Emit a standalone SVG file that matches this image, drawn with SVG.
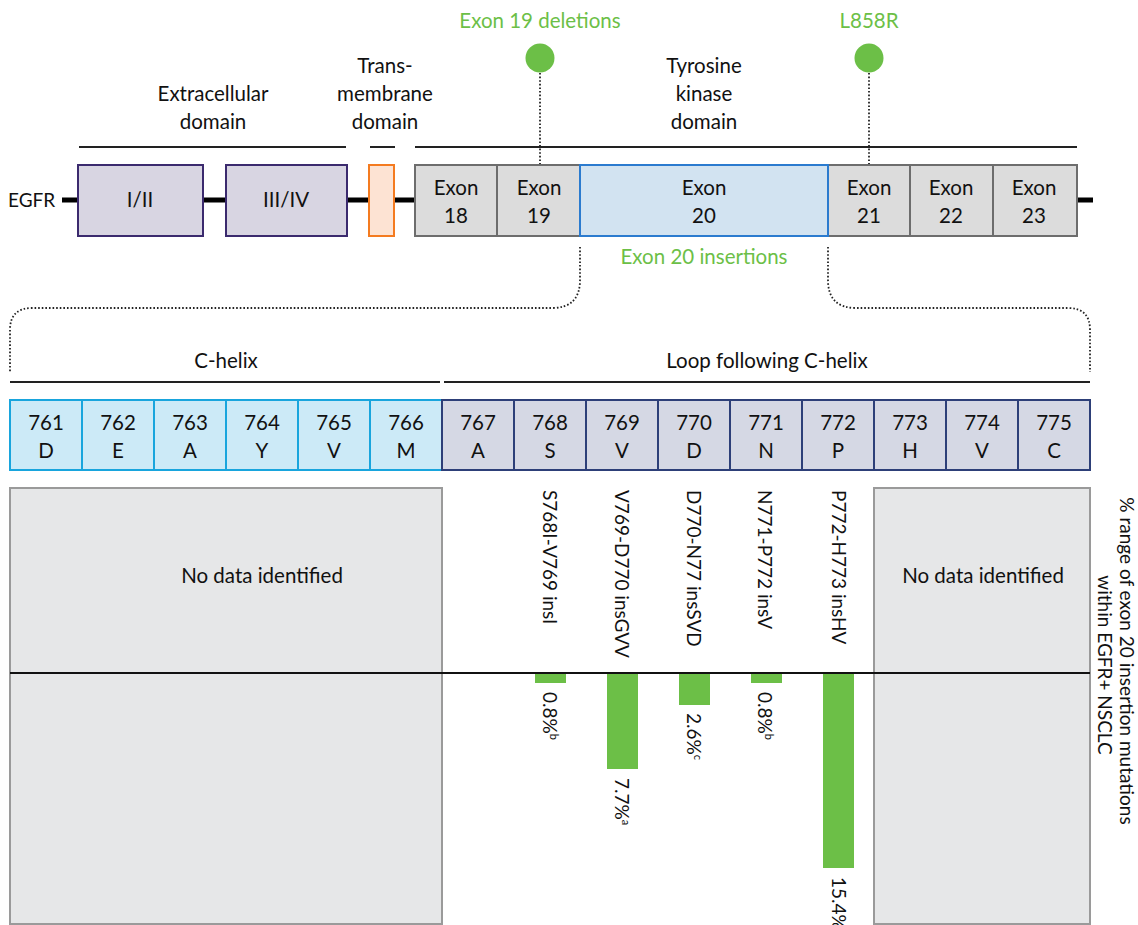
<svg xmlns="http://www.w3.org/2000/svg" width="1138" height="925" viewBox="0 0 1138 925">
<style>
text{font-family:Lato,"Open Sans","Liberation Sans",sans-serif;font-size:20.5px;fill:#111}
.c{text-anchor:middle}
.r{font-size:19px}
.g{fill:#6cbf47}
.dom{fill:#d8d5e2;stroke:#3b2a6e;stroke-width:2}
.tm{fill:#fde3d3;stroke:#f47b20;stroke-width:2}
.ex{fill:#dcdcdc;stroke:#6d6d6d;stroke-width:2}
.ex20{fill:#d2e3f1;stroke:#2b7bcf;stroke-width:2}
.ch{fill:#cceaf7;stroke:#18a5dd;stroke-width:2}
.lp{fill:#d5d8e4;stroke:#2d3f78;stroke-width:2}
.nd{fill:#e6e7e8;stroke:#9a9a9a;stroke-width:2}
.bar{fill:#6cbf47}
.dot{fill:none;stroke:#222;stroke-width:1.8;stroke-dasharray:1.6 2}
.ln{stroke:#222;stroke-width:2;fill:none}
.sup{font-size:11px}
</style>

<g id="connectors">
  <line x1="62" y1="200" x2="1093" y2="200" stroke="#000" stroke-width="5"/>
  <line class="ln" x1="79" y1="147" x2="346" y2="147"/>
  <line class="ln" x1="370" y1="147" x2="395" y2="147"/>
  <line class="ln" x1="415" y1="147" x2="1077" y2="147"/>
  <line class="dot" x1="540" y1="73" x2="540" y2="164"/>
  <line class="dot" x1="869" y1="73" x2="869" y2="164"/>
  <path class="dot" d="M580,247 L580,280 Q580,308 552,308 L32,308 Q10,308 10,330 L10,372"/>
  <path class="dot" d="M828,247 L828,280 Q828,308 856,308 L1068,308 Q1090,308 1090,330 L1090,372"/>
  <line class="ln" x1="10" y1="382" x2="440" y2="382"/>
  <line class="ln" x1="444" y1="382" x2="1090" y2="382"/>
</g>

<g id="egfr-label"><text x="8" y="207" style="font-size:19px">EGFR</text></g>

<g id="title-extracellular"><text class="c" x="213" y="101">Extracellular</text><text class="c" x="213" y="129">domain</text></g>
<g id="title-transmembrane"><text class="c" x="385" y="73">Trans-</text><text class="c" x="385" y="101">membrane</text><text class="c" x="385" y="129">domain</text></g>
<g id="title-tk"><text class="c" x="704" y="73">Tyrosine</text><text class="c" x="704" y="101">kinase</text><text class="c" x="704" y="129">domain</text></g>

<g id="mut-ex19"><text class="c g" x="540" y="28">Exon 19 deletions</text><circle cx="540" cy="58" r="14.5" fill="#6cbf47"/></g>
<g id="mut-l858r"><text class="c g" x="869" y="28">L858R</text><circle cx="869" cy="58" r="14.5" fill="#6cbf47"/></g>

<g id="dom-I-II"><rect class="dom" x="78" y="165" width="125" height="71"/><text class="c" x="140" y="207">I/II</text></g>
<g id="dom-III-IV"><rect class="dom" x="226" y="165" width="121" height="71"/><text class="c" x="286" y="207">III/IV</text></g>
<g id="dom-tm"><rect class="tm" x="369" y="165" width="25" height="71"/></g>

<g id="exon18"><rect class="ex" x="415" y="165" width="82" height="71"/><text class="c" x="456" y="195">Exon</text><text class="c" x="456" y="223">18</text></g>
<g id="exon19"><rect class="ex" x="497" y="165" width="83" height="71"/><text class="c" x="539" y="195">Exon</text><text class="c" x="539" y="223">19</text></g>
<g id="exon21"><rect class="ex" x="828" y="165" width="82" height="71"/><text class="c" x="869" y="195">Exon</text><text class="c" x="869" y="223">21</text></g>
<g id="exon22"><rect class="ex" x="910" y="165" width="83" height="71"/><text class="c" x="951" y="195">Exon</text><text class="c" x="951" y="223">22</text></g>
<g id="exon23"><rect class="ex" x="993" y="165" width="84" height="71"/><text class="c" x="1034" y="195">Exon</text><text class="c" x="1034" y="223">23</text></g>
<g id="exon20"><rect class="ex20" x="580" y="165" width="248" height="71"/><text class="c" x="704" y="195">Exon</text><text class="c" x="704" y="223">20</text></g>
<g id="ex20-ins-label"><text class="c g" x="704" y="264">Exon 20 insertions</text></g>

<g id="label-chelix"><text class="c" x="226" y="368">C-helix</text></g>
<g id="label-loop"><text class="c" x="767" y="368">Loop following C-helix</text></g>

<g id="r761"><rect class="ch" x="10" y="400" width="72" height="70"/><text class="c" x="46" y="430">761</text><text class="c" x="46" y="458">D</text></g>
<g id="r762"><rect class="ch" x="82" y="400" width="72" height="70"/><text class="c" x="118" y="430">762</text><text class="c" x="118" y="458">E</text></g>
<g id="r763"><rect class="ch" x="154" y="400" width="72" height="70"/><text class="c" x="190" y="430">763</text><text class="c" x="190" y="458">A</text></g>
<g id="r764"><rect class="ch" x="226" y="400" width="72" height="70"/><text class="c" x="262" y="430">764</text><text class="c" x="262" y="458">Y</text></g>
<g id="r765"><rect class="ch" x="298" y="400" width="72" height="70"/><text class="c" x="334" y="430">765</text><text class="c" x="334" y="458">V</text></g>
<g id="r766"><rect class="ch" x="370" y="400" width="72" height="70"/><text class="c" x="406" y="430">766</text><text class="c" x="406" y="458">M</text></g>
<g id="r767"><rect class="lp" x="442" y="400" width="72" height="70"/><text class="c" x="478" y="430">767</text><text class="c" x="478" y="458">A</text></g>
<g id="r768"><rect class="lp" x="514" y="400" width="72" height="70"/><text class="c" x="550" y="430">768</text><text class="c" x="550" y="458">S</text></g>
<g id="r769"><rect class="lp" x="586" y="400" width="72" height="70"/><text class="c" x="622" y="430">769</text><text class="c" x="622" y="458">V</text></g>
<g id="r770"><rect class="lp" x="658" y="400" width="72" height="70"/><text class="c" x="694" y="430">770</text><text class="c" x="694" y="458">D</text></g>
<g id="r771"><rect class="lp" x="730" y="400" width="72" height="70"/><text class="c" x="766" y="430">771</text><text class="c" x="766" y="458">N</text></g>
<g id="r772"><rect class="lp" x="802" y="400" width="72" height="70"/><text class="c" x="838" y="430">772</text><text class="c" x="838" y="458">P</text></g>
<g id="r773"><rect class="lp" x="874" y="400" width="72" height="70"/><text class="c" x="910" y="430">773</text><text class="c" x="910" y="458">H</text></g>
<g id="r774"><rect class="lp" x="946" y="400" width="72" height="70"/><text class="c" x="982" y="430">774</text><text class="c" x="982" y="458">V</text></g>
<g id="r775"><rect class="lp" x="1018" y="400" width="72" height="70"/><text class="c" x="1054" y="430">775</text><text class="c" x="1054" y="458">C</text></g>

<g id="nodata-left"><rect class="nd" x="10" y="488" width="432" height="436"/><text class="c" x="262" y="583">No data identified</text></g>
<g id="nodata-right"><rect class="nd" x="874" y="488" width="216" height="436"/><text class="c" x="983" y="583">No data identified</text></g>

<g id="axis"><line x1="10" y1="673" x2="1090" y2="673" stroke="#111" stroke-width="2"/></g>

<g id="ins-S768I">
  <text class="r" transform="translate(543,490) rotate(90)">S768I-V769 insI</text>
  <rect class="bar" x="535" y="674" width="31" height="9"/>
  <text class="r" transform="translate(543,692) rotate(90)">0.8%<tspan class="sup" dy="-7">b</tspan></text>
</g>
<g id="ins-V769">
  <text class="r" transform="translate(615,490) rotate(90)">V769-D770 insGVV</text>
  <rect class="bar" x="607" y="674" width="31" height="95"/>
  <text class="r" transform="translate(615,778) rotate(90)">7.7%<tspan class="sup" dy="-7">a</tspan></text>
</g>
<g id="ins-D770">
  <text class="r" transform="translate(687,490) rotate(90)">D770-N77 insSVD</text>
  <rect class="bar" x="679" y="674" width="31" height="31"/>
  <text class="r" transform="translate(687,713) rotate(90)">2.6%<tspan class="sup" dy="-7">c</tspan></text>
</g>
<g id="ins-N771">
  <text class="r" transform="translate(758,490) rotate(90)">N771-P772 insV</text>
  <rect class="bar" x="751" y="674" width="31" height="9"/>
  <text class="r" transform="translate(758,692) rotate(90)">0.8%<tspan class="sup" dy="-7">b</tspan></text>
</g>
<g id="ins-P772">
  <text class="r" transform="translate(832,490) rotate(90)">P772-H773 insHV</text>
  <rect class="bar" x="823" y="674" width="31" height="194"/>
  <text class="r" transform="translate(832,877) rotate(90)">15.4%<tspan class="sup" dy="-7">a</tspan></text>
</g>

<g id="axis-title">
  <text class="c r" transform="translate(1120,661) rotate(90)">% range of exon 20 insertion mutations</text>
  <text class="c r" transform="translate(1098,665) rotate(90)">within EGFR+ NSCLC</text>
</g>
</svg>
